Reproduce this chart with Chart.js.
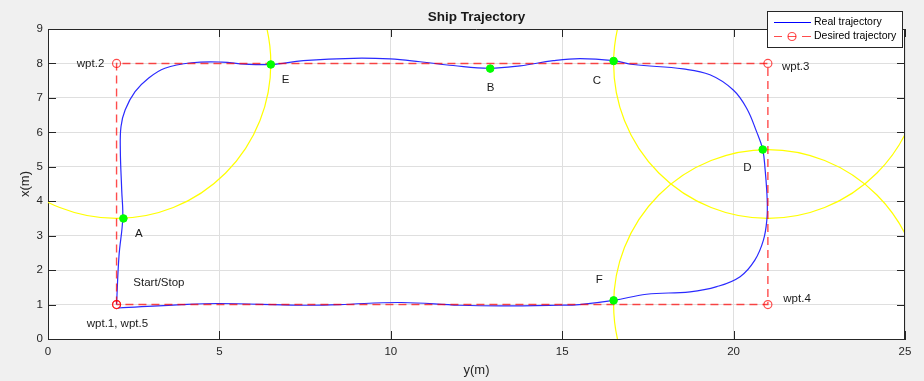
<!DOCTYPE html>
<html>
<head>
<meta charset="utf-8">
<title>Ship Trajectory</title>
<script src="https://cdn.jsdelivr.net/npm/chart.js"></script>
<style>
  html, body { margin: 0; padding: 0; background: #f0f0f0; }
  canvas { display: block; }
</style>
</head>
<body>
<canvas id="ship-chart" width="924" height="381"></canvas>
<script>
// horizontal axis is y(m), vertical axis is x(m)
const realTrajY = [2.0, 2.07, 2.18, 2.15, 2.11, 2.13, 2.25, 2.54, 2.93, 3.41, 4.19, 5.07, 5.75, 6.5, 7.45, 8.91, 9.98, 10.85, 11.82, 12.87, 13.77, 14.74, 15.52, 16.5, 17.07, 18.53, 19.31, 19.99, 20.38, 20.67, 20.85, 20.92, 20.98, 20.97, 20.87, 20.62, 20.19, 19.51, 18.73, 17.46, 16.5, 15.5, 14.9, 13.2, 12.0, 10.3, 8.5, 7.35, 5.0, 3.9, 2.05];
const realTrajX = [1.0, 2.4, 3.5, 4.33, 5.49, 6.17, 6.65, 7.18, 7.57, 7.86, 8.02, 8.04, 7.98, 7.97, 8.08, 8.15, 8.13, 8.05, 7.94, 7.86, 7.93, 8.08, 8.14, 8.08, 7.97, 7.84, 7.67, 7.23, 6.70, 6.02, 5.5, 4.91, 4.04, 3.46, 2.87, 2.29, 1.81, 1.52, 1.37, 1.30, 1.12, 1.0, 0.98, 0.96, 0.98, 1.06, 1.0, 0.98, 1.03, 1.0, 0.9];

const wptY = [2, 2, 21, 21, 2];
const wptX = [1, 8, 8, 1, 1];

const checkNames = ['A', 'E', 'B', 'C', 'D', 'F'];
const checkY = [2.2, 6.5, 12.9, 16.5, 20.85, 16.5];
const checkX = [3.5, 7.97, 7.85, 8.07, 5.5, 1.12];

// circles of acceptance round wpt.2, wpt.3, wpt.4
const circleY = [2, 21, 21];
const circleX = [8, 8, 1];
const circleR = [4.5, 4.5, 4.5];

const labelText = ['A', 'Start/Stop', 'wpt.1, wpt.5', 'wpt.2', 'E', 'B', 'C', 'wpt.3', 'D', 'F', 'wpt.4'];
const labelY = [2.54, 2.49, 1.13, 0.84, 6.82, 12.8, 15.89, 21.41, 20.28, 15.98, 21.45];
const labelX = [3.05, 1.63, 0.44, 7.98, 7.52, 7.28, 7.49, 7.9, 4.96, 1.71, 1.18];

const yTicks = [0, 5, 10, 15, 20, 25];
const xTicks = [0, 1, 2, 3, 4, 5, 6, 7, 8, 9];

const FONT = '"Liberation Sans", Arial, Helvetica, sans-serif';
const AXIS_COLOR = '#262626';
const RED = 'rgba(255, 0, 0, 0.7)';

function toPoints(hs, vs) {
    return hs.map((h, i) => ({ x: h, y: vs[i] }));
}

// background, circles, box, labels, legend
const shipPlugin = {
    id: 'shipPlugin',
    beforeDraw(chart) {
        const { ctx, chartArea: a } = chart;
        ctx.save();
        ctx.fillStyle = '#f0f0f0';
        ctx.fillRect(0, 0, chart.width, chart.height);
        ctx.fillStyle = '#ffffff';
        ctx.fillRect(a.left, a.top, a.right - a.left, a.bottom - a.top);
        ctx.restore();
    },
    beforeDatasetsDraw(chart) {
        const { ctx, chartArea: a, scales } = chart;
        const sx = scales.x, sy = scales.y;
        ctx.save();
        ctx.beginPath();
        ctx.rect(a.left, a.top, a.right - a.left, a.bottom - a.top);
        ctx.clip();
        ctx.strokeStyle = '#ffff00';
        ctx.lineWidth = 1.2;
        for (let i = 0; i < circleY.length; i++) {
            const cx = sx.getPixelForValue(circleY[i]);
            const cy = sy.getPixelForValue(circleX[i]);
            const rx = Math.abs(sx.getPixelForValue(circleY[i] + circleR[i]) - cx);
            const ry = Math.abs(sy.getPixelForValue(circleX[i] + circleR[i]) - cy);
            ctx.beginPath();
            ctx.ellipse(cx, cy, rx, ry, 0, 0, Math.PI * 2);
            ctx.stroke();
        }
        ctx.restore();
    },
    afterDatasetsDraw(chart) {
        const { ctx, chartArea: a, scales } = chart;
        const sx = scales.x, sy = scales.y;
        const tl = 8;
        ctx.save();
        // box and inward ticks
        ctx.strokeStyle = AXIS_COLOR;
        ctx.lineWidth = 1;
        ctx.beginPath();
        ctx.moveTo(a.left, a.top + 0.5);
        ctx.lineTo(a.right, a.top + 0.5);
        ctx.moveTo(a.right - 0.5, a.top);
        ctx.lineTo(a.right - 0.5, a.bottom);
        yTicks.forEach(t => {
            const px = Math.round(sx.getPixelForValue(t)) + 0.5;
            ctx.moveTo(px, a.bottom);
            ctx.lineTo(px, a.bottom - tl);
            ctx.moveTo(px, a.top);
            ctx.lineTo(px, a.top + tl);
        });
        xTicks.forEach(t => {
            const py = Math.round(sy.getPixelForValue(t)) + 0.5;
            ctx.moveTo(a.left, py);
            ctx.lineTo(a.left + tl, py);
            ctx.moveTo(a.right, py);
            ctx.lineTo(a.right - tl, py);
        });
        ctx.stroke();

        // text labels
        ctx.fillStyle = '#1a1a1a';
        ctx.font = '11.5px ' + FONT;
        ctx.textAlign = 'left';
        ctx.textBaseline = 'middle';
        labelText.forEach((s, i) => {
            ctx.fillText(s, sx.getPixelForValue(labelY[i]), sy.getPixelForValue(labelX[i]));
        });

        // title
        ctx.font = 'bold 13.5px ' + FONT;
        ctx.textAlign = 'center';
        ctx.fillText('Ship Trajectory', (a.left + a.right) / 2, 17);
        ctx.restore();
    },
    afterDraw(chart) {
        const ctx = chart.ctx;
        const L = 767, T = 11, W = 136, H = 37;
        ctx.save();
        ctx.fillStyle = '#ffffff';
        ctx.fillRect(L, T, W, H);
        ctx.strokeStyle = AXIS_COLOR;
        ctx.lineWidth = 1;
        ctx.strokeRect(L + 0.5, T + 0.5, W - 1, H - 1);

        ctx.strokeStyle = '#0000ff';
        ctx.beginPath();
        ctx.moveTo(774, 22.5);
        ctx.lineTo(811, 22.5);
        ctx.stroke();

        ctx.strokeStyle = RED;
        ctx.lineWidth = 1.2;
        ctx.beginPath();
        ctx.moveTo(774, 36.5);
        ctx.lineTo(782, 36.5);
        ctx.moveTo(788, 36.5);
        ctx.lineTo(796, 36.5);
        ctx.moveTo(802, 36.5);
        ctx.lineTo(811, 36.5);
        ctx.stroke();
        ctx.beginPath();
        ctx.arc(792, 36.5, 4, 0, Math.PI * 2);
        ctx.stroke();

        ctx.fillStyle = '#000000';
        ctx.font = '10.5px ' + FONT;
        ctx.textAlign = 'left';
        ctx.textBaseline = 'middle';
        ctx.fillText('Real trajectory', 814, 22);
        ctx.fillText('Desired trajectory', 814, 36.5);
        ctx.restore();
    }
};

document.addEventListener('DOMContentLoaded', function () {
    const canvas = document.getElementById('ship-chart');
    if (!canvas) {
        console.error('canvas not found');
        return;
    }
    const ctx = canvas.getContext('2d');
    const shipChart = new Chart(ctx, {
        type: 'scatter',
        data: {
            datasets: [{
                label: 'Check points',
                data: toPoints(checkY, checkX),
                backgroundColor: '#00ff00',
                borderColor: '#00ff00',
                pointRadius: 3.8,
                order: 0
            }, {
                label: 'Desired trajectory',
                data: toPoints(wptY, wptX),
                showLine: true,
                borderColor: RED,
                borderWidth: 1.4,
                borderDash: [8, 5],
                pointRadius: 4,
                pointBorderWidth: 1.2,
                pointBorderColor: RED,
                pointBackgroundColor: 'rgba(255, 255, 255, 0)',
                tension: 0,
                order: 1
            }, {
                label: 'Real trajectory',
                data: toPoints(realTrajY, realTrajX),
                showLine: true,
                borderColor: '#2a2aff',
                borderWidth: 1.2,
                pointRadius: 0,
                tension: 0.4,
                order: 2
            }]
        },
        options: {
            responsive: false,
            animation: false,
            devicePixelRatio: 1,
            layout: { padding: { left: 0, top: 29, right: 19, bottom: 0 } },
            plugins: {
                legend: { display: false },
                title: { display: false },
                tooltip: { enabled: false }
            },
            scales: {
                x: {
                    type: 'linear',
                    min: 0,
                    max: 25,
                    afterFit(scale) { scale.height = 42; },
                    ticks: {
                        stepSize: 5,
                        padding: 6,
                        color: AXIS_COLOR,
                        font: { family: FONT, size: 11.5 },
                        maxRotation: 0
                    },
                    grid: { color: '#dfdfdf', drawTicks: false },
                    border: { color: AXIS_COLOR },
                    title: {
                        display: true,
                        text: 'y(m)',
                        color: AXIS_COLOR,
                        font: { family: FONT, size: 13 },
                        padding: { top: 0, bottom: 3 }
                    }
                },
                y: {
                    type: 'linear',
                    min: 0,
                    max: 9,
                    afterFit(scale) { scale.width = 48; },
                    ticks: {
                        stepSize: 1,
                        padding: 5,
                        color: AXIS_COLOR,
                        font: { family: FONT, size: 11.5 }
                    },
                    grid: { color: '#dfdfdf', drawTicks: false },
                    border: { color: AXIS_COLOR },
                    title: {
                        display: true,
                        text: 'x(m)',
                        color: AXIS_COLOR,
                        font: { family: FONT, size: 13 },
                        padding: { top: 18, bottom: 0 }
                    }
                }
            }
        },
        plugins: [shipPlugin]
    });
});
</script>
</body>
</html>
